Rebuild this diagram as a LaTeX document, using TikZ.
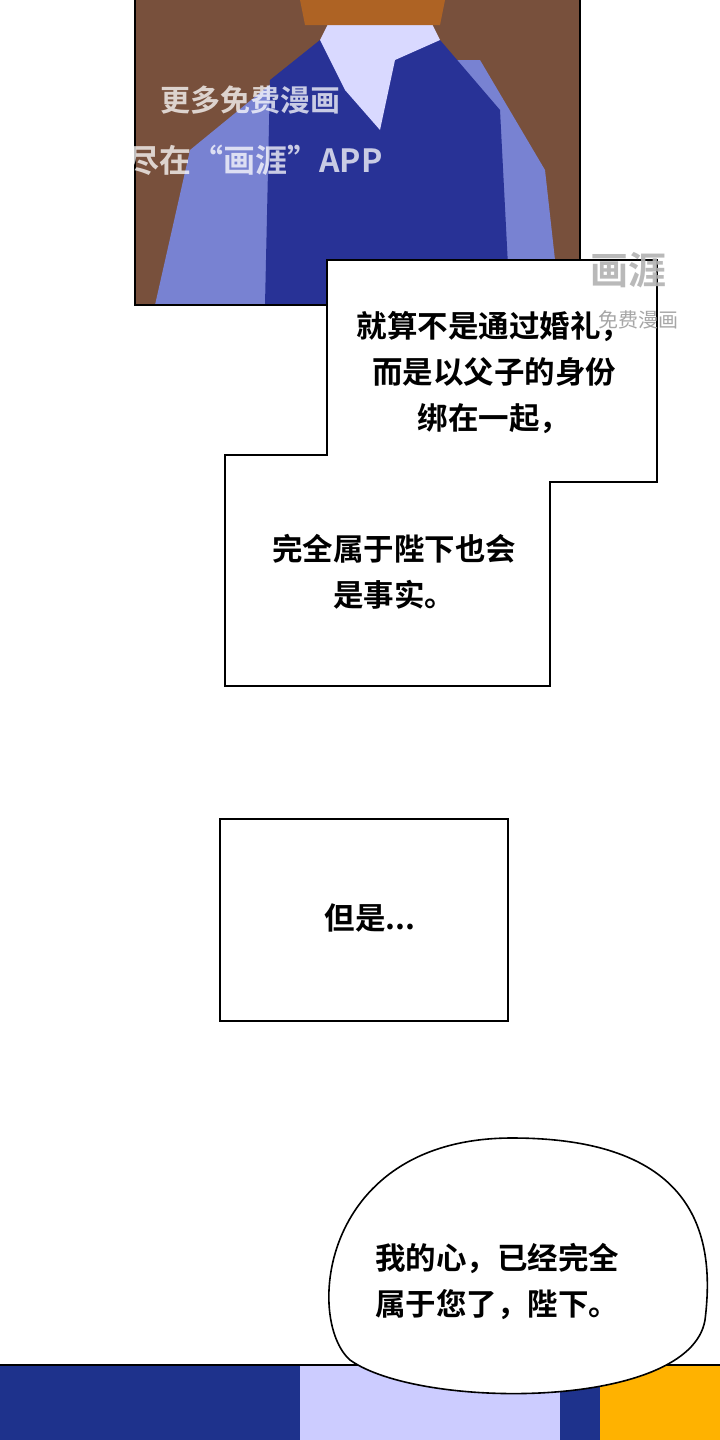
\documentclass[tikz,border=0pt]{standalone}
\usepackage{fontspec}
\newfontfamily\cjk{Noto Sans CJK SC}[BoldFont={Noto Sans CJK SC Bold}]
\usetikzlibrary{positioning}
\definecolor{robeblue}{RGB}{40,50,150}
\definecolor{sleeve}{RGB}{120,130,210}
\definecolor{warm}{RGB}{120,80,60}
\definecolor{night}{RGB}{30,50,140}
\tikzset{
  boxline/.style={draw=black,line width=1.6pt,fill=white},
  talk/.style={font=\cjk\fontsize{30.5}{46}\selectfont\bfseries,align=center,text=black},
  mark/.style={font=\cjk\fontsize{#1}{#1}\selectfont\bfseries,text=white,opacity=0.75}
}
\begin{document}
\begin{tikzpicture}[x=1pt,y=-1pt]
  \useasboundingbox (0,0) rectangle (720,1440);
  \fill[white] (0,0) rectangle (720,1440);
  % top panel
  \fill[warm] (135,0) rectangle (580,305);
  \fill[sleeve] (155,305)--(190,150)--(300,60)--(480,60)--(545,170)--(560,305)--cycle;
  \fill[robeblue] (265,305)--(270,80)--(320,40)--(440,40)--(500,110)--(510,305)--cycle;
  \fill[white!85!blue] (320,40)--(345,90)--(380,130)--(395,60)--(440,40)--(430,20)--(330,20)--cycle;
  \fill[warm!60!orange] (300,0)--(305,25)--(440,25)--(445,0)--cycle;
  \draw[line width=1.6pt] (135,0)--(135,305)--(580,305)--(580,0);
  \node[mark=30] (wm1) at (250,100) {更多免费漫画};
  \node[mark=32] (wm2) at (255,160) {尽在“画涯”APP};
  % stepped caption box
  \draw[boxline] (327,260)--(657,260)--(657,482)--(550,482)--(550,686)--(225,686)--(225,455)--(327,455)--cycle;
  \node[mark=38,text=gray!60,opacity=0.9] (wm3) at (628,270) {画涯};
  \node[font=\cjk\fontsize{20}{20}\selectfont,text=gray!70] (wm4) at (638,320) {免费漫画};
  \node[talk] (cap1) at (494,373) {就算不是通过婚礼，\\而是以父子的身份\\绑在一起，};
  \node[talk] (cap2) at (394,572) {完全属于陛下也会\\是事实。};
  % middle box
  \draw[boxline] (220,819) rectangle (508,1021);
  \node[talk] (cap3) at (370,918) {但是...};
  % bottom panel
  \fill[night] (0,1365) rectangle (720,1440);
  \fill[white!80!blue] (300,1365) rectangle (560,1440);
  \fill[orange!60!yellow] (600,1365) rectangle (720,1440);
  \draw[line width=1.6pt] (0,1365)--(720,1365);
  % speech bubble
  \draw[boxline] (512,1138) .. controls (700,1138) and (715,1240) .. (705,1320)
    .. controls (690,1410) and (420,1410) .. (350,1360)
    .. controls (305,1320) and (320,1138) .. (512,1138);
  \node[talk] (say) at (497,1281) {我的心，已经完全\\属于您了，陛下。};
\end{tikzpicture}
\end{document}
